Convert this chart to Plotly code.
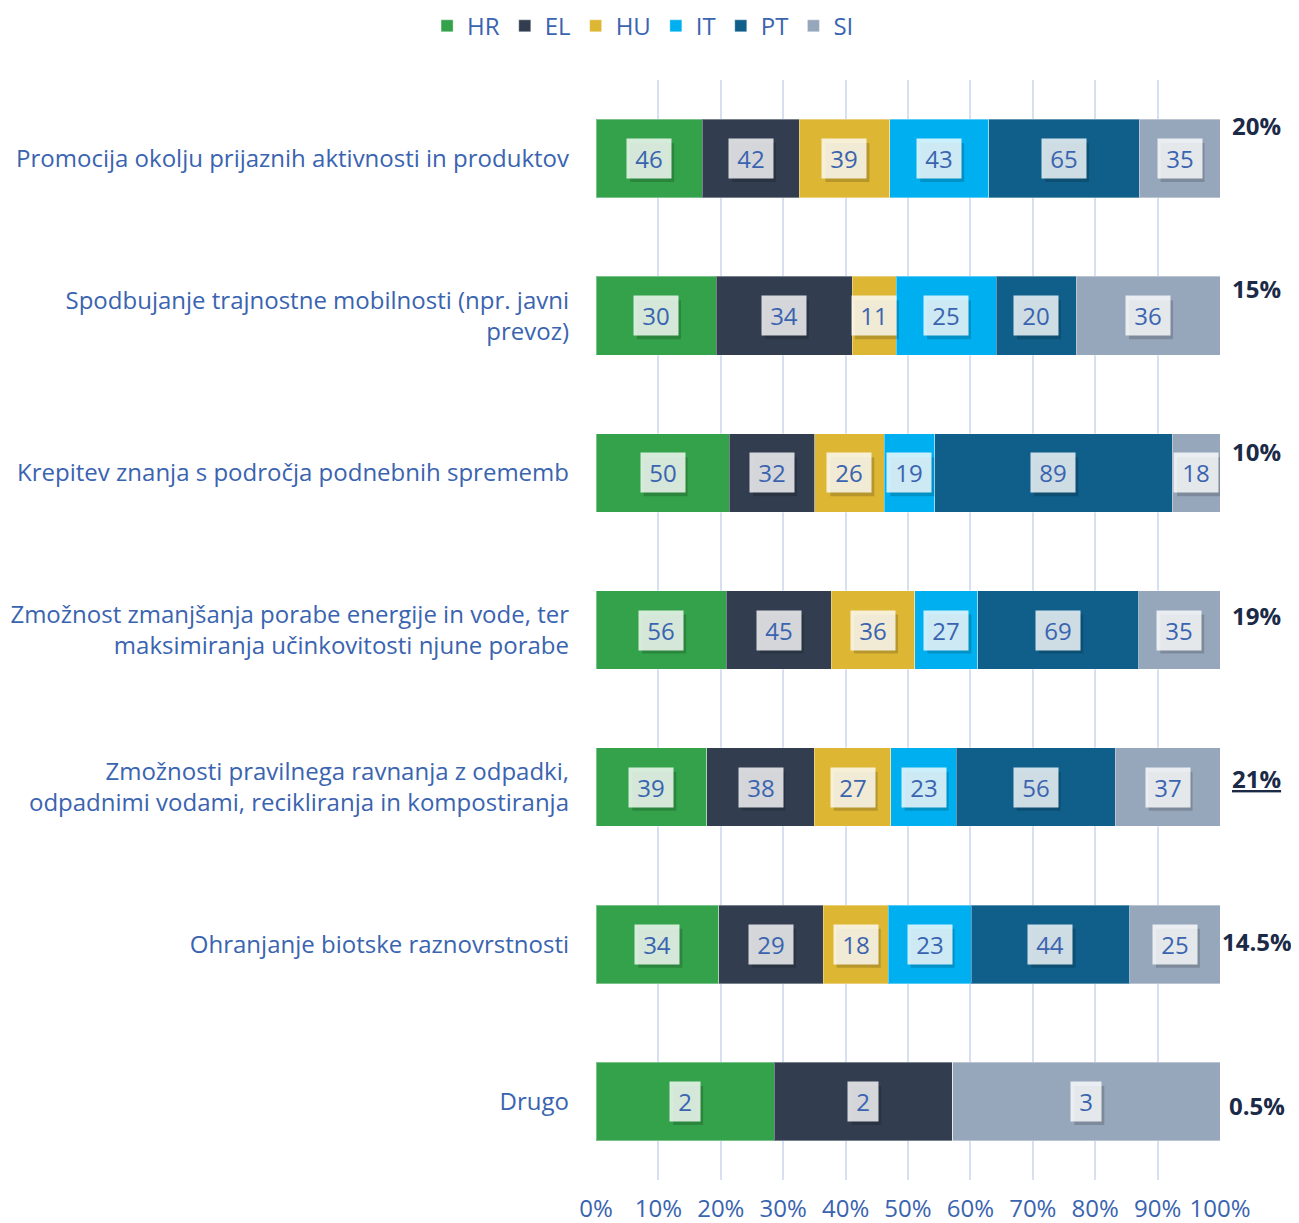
import plotly.graph_objects as go

# ── DATA ─────────────────────────────────────────────────────────────────
categories = [
    'Promocija okolju prijaznih aktivnosti in produktov',
    'Spodbujanje trajnostne mobilnosti (npr. javni<br>prevoz)',
    'Krepitev znanja s področja podnebnih sprememb',
    'Zmožnost zmanjšanja porabe energije in vode, ter<br>maksimiranja učinkovitosti njune porabe',
    'Zmožnosti pravilnega ravnanja z odpadki,<br>odpadnimi vodami, recikliranja in kompostiranja',
    'Ohranjanje biotske raznovrstnosti',
    'Drugo',
]
countries = ['HR', 'EL', 'HU', 'IT', 'PT', 'SI']

hr = [46, 30, 50, 56, 39, 34, 2]
el = [42, 34, 32, 45, 38, 29, 2]
hu = [39, 11, 26, 36, 27, 18, 0]
it = [43, 25, 19, 27, 23, 23, 0]
pt = [65, 20, 89, 69, 56, 44, 0]
si = [35, 36, 18, 35, 37, 25, 3]

share_labels = ['20%', '15%', '10%', '19%', '<u>21%</u>', '14.5%', '0.5%']

colors = {'HR': '#34A24A', 'EL': '#323E50', 'HU': '#DDB634',
          'IT': '#00AFEF', 'PT': '#0F5F8A', 'SI': '#97A7BB'}

series = dict(zip(countries, [hr, el, hu, it, pt, si]))

BLUE = '#3A64B0'
FONT = 'Open Sans'
FS = 24

# ── FIGURE ───────────────────────────────────────────────────────────────
fig = go.Figure()
for c in countries:
    fig.add_trace(go.Bar(
        name=c, y=categories, x=series[c], orientation='h',
        marker=dict(color=colors[c], line=dict(color='rgba(255,255,255,0.35)', width=1)),
    ))

# value boxes centred in each segment (positions from the normalised stack)
annotations = []
shapes = []
for i, cat in enumerate(categories):
    total = sum(series[c][i] for c in countries)
    cum = 0
    for c in countries:
        v = series[c][i]
        if v == 0:
            continue
        mid = (cum + v / 2) / total * 100
        cum += v
        w = 22 if v < 10 else 36
        half_w, half_h = w / 2 + 4, 19.5
        # drop shadow behind the box
        shapes.append(dict(
            type='rect', xref='x', yref='y', xsizemode='pixel', ysizemode='pixel',
            xanchor=mid, yanchor=i, x0=-half_w + 3, x1=half_w + 3,
            y0=-half_h - 4, y1=half_h - 4,
            fillcolor='rgba(0,0,0,0.17)', line=dict(width=0), layer='above',
        ))
        annotations.append(dict(
            x=mid, y=cat, xref='x', yref='y', text=str(v), width=w, height=31,
            showarrow=False, font=dict(family=FONT, size=FS, color=BLUE),
            bgcolor='rgba(255,255,255,0.8)', borderpad=4,
        ))

# share column on the right
n = len(share_labels)
for i, s in enumerate(share_labels):
    py = 0.959 - i * (0.959 - 0.068) / (n - 1)
    annotations.append(dict(
        x=1.059, y=py, xref='paper', yref='paper', text=f'<b>{s}</b>',
        showarrow=False, xanchor='center', yanchor='middle',
        font=dict(family=FONT, size=FS, color='#1B2A47'),
    ))

fig.update_layout(
    barmode='stack', barnorm='percent', bargap=0.5,
    width=1283, height=1215,
    margin=dict(l=588, r=71, t=72, b=43),
    paper_bgcolor='white', plot_bgcolor='white',
    font=dict(family=FONT, size=FS, color=BLUE),
    legend=dict(orientation='h', xref='container', yref='container',
                x=0.495, y=0.985, xanchor='center', yanchor='middle',
                font=dict(family=FONT, size=FS, color=BLUE), traceorder='normal'),
    annotations=annotations,
    shapes=shapes,
)
fig.update_xaxes(range=[0, 100], dtick=10, ticksuffix='%', showgrid=True,
                 gridcolor='#D6E0F0', gridwidth=2, zeroline=False, automargin=False,
                 ticklabelstandoff=12, tickfont=dict(size=FS, color=BLUE))
fig.update_yaxes(autorange='reversed', ticklabelstandoff=26, automargin=False,
                 tickfont=dict(size=FS, color=BLUE), showgrid=False)

fig.write_html('out.html')
